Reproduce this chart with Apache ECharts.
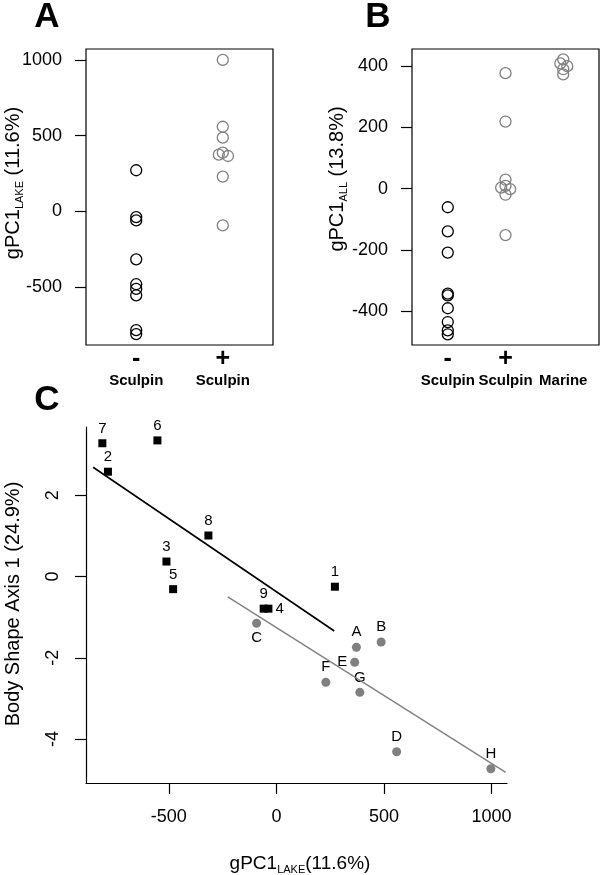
<!DOCTYPE html>
<html>
<head>
<meta charset="utf-8">
<script src="https://cdn.jsdelivr.net/npm/echarts@6/dist/echarts.min.js"></script>
<style>
  html, body { margin: 0; padding: 0; background: #fff; }
  #chart { width: 600px; height: 875px; }
</style>
</head>
<body>
<div id="chart"></div>
<script>
// ---------------- DATA ----------------
// Panel A: gPC1_LAKE by sculpin presence
const aGroups = ['-', '+'];
const aGroupNames = ['Sculpin', 'Sculpin'];
const aMinus = [272, -37, -59, -316, -480, -511, -553, -783, -809];
const aPlus = [1000, 559, 487, 388, 375, 366, 230, -92];
const aPlusJitter = [0, 0, 0, 0, -0.046, 0.06, 0, 0];
const aTicks = [-500, 0, 500, 1000];

// Panel B: gPC1_ALL
const bGroups = ['-', '+', ' '];
const bGroupNames = ['Sculpin', 'Sculpin', 'Marine'];
const bMinus = [-61, -140, -209, -343, -349, -391, -436, -463, -476];
const bPlus = [377, 219, 29, 9, 3, -2, -20, -152];
const bPlusJitter = [0, 0, 0, 0, -0.075, 0.08, 0, 0];
const bMarine = [422, 409, 400, 390, 373];
const bMarineJitter = [0, -0.05, 0.07, 0, 0];
const bTicks = [-400, -200, 0, 200, 400];

// Panel C: body shape vs gPC1_LAKE
const lakeNames = ['1', '2', '3', '4', '5', '6', '7', '8', '9'];
const lakeX = [272, -783, -511, -37, -480, -553, -809, -316, -59];
const lakeY = [-0.25, 2.58, 0.37, -0.79, -0.31, 3.35, 3.28, 1.01, -0.79];
const sculpinNames = ['A', 'B', 'C', 'D', 'E', 'F', 'G', 'H'];
const sculpinX = [372, 487, -92, 559, 364, 230, 388, 997];
const sculpinY = [-1.74, -1.61, -1.15, -4.31, -2.11, -2.60, -2.85, -4.73];
const lakeFit = [[-852, 2.69], [269, -1.34]];
const sculpinFit = [[-226, -0.50], [1066, -4.82]];
const cXTicks = [-500, 0, 500, 1000];
const cYTicks = [-4, -2, 0, 2];

// ---------------- STYLE ----------------
const FONT = 'Liberation Sans';
const GRAY = '#808080';
const plain = v => String(v);
const tickFont = { fontFamily: FONT, fontSize: 18, color: '#000', formatter: plain };
const labelPlacement = { '4': 'right', 'E': 'left', 'C': 'bottom' };

function groupLabels(groups, names) {
  return function (v) {
    const i = Math.round(v) - 1;
    return '{p|' + groups[i] + '}\n{s|' + names[i] + '}';
  };
}
const groupRich = {
  p: { fontFamily: FONT, fontWeight: 'bold', fontSize: 25, lineHeight: 20, color: '#000' },
  s: { fontFamily: FONT, fontWeight: 'bold', fontSize: 15, lineHeight: 24, color: '#000' }
};
const titleRich = (size) => ({
  m: { fontFamily: FONT, fontSize: size, lineHeight: size + 4, fill: '#000' },
  s: { fontFamily: FONT, fontSize: Math.round(size * 0.56), lineHeight: Math.round(size * 0.56), verticalAlign: 'bottom', fill: '#000' }
});

const chart = echarts.init(document.getElementById('chart'), null, { renderer: 'canvas' });

const openCircle = (color) => ({ color: 'rgba(0,0,0,0)', borderColor: color, borderWidth: 1.3, opacity: 1 });

const option = {
  animation: false,
  backgroundColor: '#fff',
  grid: [
    { left: 86, top: 49, width: 187, height: 296, show: true, borderColor: '#000', borderWidth: 1.2, backgroundColor: 'transparent' },
    { left: 412, top: 49, width: 187, height: 296, show: true, borderColor: '#000', borderWidth: 1.2, backgroundColor: 'transparent' },
    { left: 86, top: 427, width: 421, height: 356 }
  ],
  xAxis: [
    { gridIndex: 0, type: 'value', min: 0.42, max: 2.58, splitLine: { show: false },
      axisLine: { show: false }, axisTick: { show: false },
      axisLabel: { customValues: [1, 2], formatter: groupLabels(aGroups, aGroupNames), rich: groupRich, margin: 4 } },
    { gridIndex: 1, type: 'value', min: 0.38, max: 3.62, splitLine: { show: false },
      axisLine: { show: false }, axisTick: { show: false },
      axisLabel: { customValues: [1, 2, 3], formatter: groupLabels(bGroups, bGroupNames), rich: groupRich, margin: 4 } },
    { gridIndex: 2, type: 'value', min: -885, max: 1072, splitLine: { show: false },
      axisLine: { show: true, onZero: false, lineStyle: { color: '#000', width: 1.2 } },
      axisTick: { show: true, customValues: cXTicks, length: 11, inside: false, lineStyle: { color: '#000', width: 1.2 } },
      axisLabel: Object.assign({ customValues: cXTicks, margin: 25 }, tickFont) }
  ],
  yAxis: [
    { gridIndex: 0, type: 'value', min: -881, max: 1072, splitLine: { show: false },
      axisLine: { show: false },
      axisTick: { show: true, customValues: aTicks, length: 11, lineStyle: { color: '#000', width: 1.2 } },
      axisLabel: Object.assign({ customValues: aTicks, margin: 24 }, tickFont) },
    { gridIndex: 1, type: 'value', min: -511, max: 456, splitLine: { show: false },
      axisLine: { show: false },
      axisTick: { show: true, customValues: bTicks, length: 11, lineStyle: { color: '#000', width: 1.2 } },
      axisLabel: Object.assign({ customValues: bTicks, margin: 24 }, tickFont) },
    { gridIndex: 2, type: 'value', min: -5.08, max: 3.68, splitLine: { show: false },
      axisLine: { show: true, onZero: false, lineStyle: { color: '#000', width: 1.2 } },
      axisTick: { show: true, customValues: cYTicks, length: 11, lineStyle: { color: '#000', width: 1.2 } },
      axisLabel: Object.assign({ customValues: cYTicks, margin: 24, rotate: 90 }, tickFont) }
  ],
  series: [
    { type: 'scatter', xAxisIndex: 0, yAxisIndex: 0, symbol: 'circle', symbolSize: 11,
      itemStyle: openCircle('#000'), data: aMinus.map(v => [1, v]) },
    { type: 'scatter', xAxisIndex: 0, yAxisIndex: 0, symbol: 'circle', symbolSize: 11,
      itemStyle: openCircle(GRAY), data: aPlus.map((v, i) => [2 + aPlusJitter[i], v]) },
    { type: 'scatter', xAxisIndex: 1, yAxisIndex: 1, symbol: 'circle', symbolSize: 11,
      itemStyle: openCircle('#000'), data: bMinus.map(v => [1, v]) },
    { type: 'scatter', xAxisIndex: 1, yAxisIndex: 1, symbol: 'circle', symbolSize: 11,
      itemStyle: openCircle(GRAY), data: bPlus.map((v, i) => [2 + bPlusJitter[i], v]) },
    { type: 'scatter', xAxisIndex: 1, yAxisIndex: 1, symbol: 'circle', symbolSize: 11,
      itemStyle: openCircle(GRAY), data: bMarine.map((v, i) => [3 + bMarineJitter[i], v]) },
    { type: 'line', xAxisIndex: 2, yAxisIndex: 2, symbol: 'none', silent: true,
      lineStyle: { color: '#000', width: 1.6 }, data: lakeFit },
    { type: 'line', xAxisIndex: 2, yAxisIndex: 2, symbol: 'none', silent: true,
      lineStyle: { color: GRAY, width: 1.4 }, data: sculpinFit },
    { type: 'scatter', xAxisIndex: 2, yAxisIndex: 2, symbol: 'circle', symbolSize: 9,
      itemStyle: { color: GRAY, opacity: 1 },
      data: sculpinNames.map((n, i) => ({ name: n, value: [sculpinX[i], sculpinY[i]],
        label: { position: labelPlacement[n] || 'top' } })),
      label: { show: true, formatter: '{b}', distance: 3, fontFamily: FONT, fontSize: 15, color: '#000' } },
    { type: 'scatter', xAxisIndex: 2, yAxisIndex: 2, symbol: 'rect', symbolSize: 8,
      itemStyle: { color: '#000', opacity: 1 },
      data: lakeNames.map((n, i) => ({ name: n, value: [lakeX[i], lakeY[i]],
        label: { position: labelPlacement[n] || 'top' } })),
      label: { show: true, formatter: '{b}', distance: 3, fontFamily: FONT, fontSize: 15, color: '#000' } }
  ],
  graphic: [
    { type: 'text', x: 47, y: 17, style: { text: 'A', fontFamily: FONT, fontWeight: 'bold', fontSize: 35, fill: '#000', align: 'center', verticalAlign: 'middle' } },
    { type: 'text', x: 378, y: 17, style: { text: 'B', fontFamily: FONT, fontWeight: 'bold', fontSize: 35, fill: '#000', align: 'center', verticalAlign: 'middle' } },
    { type: 'text', x: 47, y: 400, style: { text: 'C', fontFamily: FONT, fontWeight: 'bold', fontSize: 35, fill: '#000', align: 'center', verticalAlign: 'middle' } },
    { type: 'text', x: 13, y: 183, rotation: Math.PI / 2,
      style: { text: '{m|gPC1}{s|LAKE}{m| (11.6%)}', align: 'center', verticalAlign: 'middle', rich: titleRich(20) } },
    { type: 'text', x: 337, y: 179, rotation: Math.PI / 2,
      style: { text: '{m|gPC1}{s|ALL}{m| (13.8%)}', align: 'center', verticalAlign: 'middle', rich: titleRich(20) } },
    { type: 'text', x: 13, y: 604, rotation: Math.PI / 2,
      style: { text: 'Body Shape Axis 1 (24.9%)', align: 'center', verticalAlign: 'middle',
        fontFamily: FONT, fontSize: 20, fill: '#000' } },
    { type: 'text', x: 300, y: 864,
      style: { text: '{m|gPC1}{s|LAKE}{m|(11.6%)}', align: 'center', verticalAlign: 'middle', rich: titleRich(19) } }
  ]
};
chart.setOption(option);
</script>
</body>
</html>
